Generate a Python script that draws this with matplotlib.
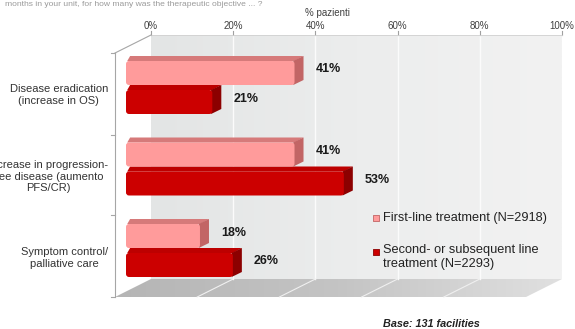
import numpy as np
import matplotlib
matplotlib.use("Agg")
import matplotlib.pyplot as plt
from matplotlib.patches import Polygon, FancyBboxPatch
from matplotlib.colors import LinearSegmentedColormap

plt.rcParams['font.family'] = ['Liberation Sans', 'DejaVu Sans']

# ---------------- data ----------------
categories = ["Disease eradication\n(increase in OS)",
              "Increase in progression-\nfree disease (aumento\nPFS/CR)",
              "Symptom control/\npalliative care"]
first_line = [41, 41, 18]
second_line = [21, 53, 26]
series_names = ["First-line treatment (N=2918)",
                "Second- or subsequent line\ntreatment (N=2293)"]
tick_values = [0, 20, 40, 60, 80, 100]
title_text = "months in your unit, for how many was the therapeutic objective ... ?"
axis_title = "% pazienti"
base_text = "Base: 131 facilities"

# ---------------- geometry (pixels) ----------------
W, H = 575, 329
K = 4.11          # px per percent
X0 = 126          # px of 0% on the bar front plane
BACK_DX = 25      # back wall offset in px
WALL_TOP, WALL_BOT = 35, 279
FLOOR_FRONT = 297
DEPTH_X, DEPTH_Y = -36, 18
BAR_DX, BAR_DY = 9, 5
G_START, G_PITCH = 56, 81.5
SLOT_H, SLOT_GAP = 29, 0


def px(x):
    return (x - X0) / K


fig = plt.figure(figsize=(W / 100, H / 100), dpi=100)
ax = fig.add_axes([0, 0, 1, 1])
ax.set_xlim(px(0), px(W))
ax.set_ylim(H, 0)
ax.axis('off')

bx0 = px(X0 + BACK_DX)          # back wall 0%
bx1 = bx0 + 100                  # back wall 100%

# back wall with gradient
wall = Polygon([(bx0, WALL_TOP), (bx1, WALL_TOP), (bx1, WALL_BOT), (bx0, WALL_BOT)],
               closed=True, facecolor='none', edgecolor='none')
ax.add_patch(wall)
cm_wall = LinearSegmentedColormap.from_list('w', ['#e3e5e5', '#eceded', '#f2f2f2'])
im = ax.imshow(np.linspace(0, 1, 256).reshape(1, -1), cmap=cm_wall, aspect='auto',
               extent=(bx0, bx1, WALL_BOT, WALL_TOP), zorder=0.5)
im.set_clip_path(wall)

# floor with gradient
fx = DEPTH_X / K
floor = Polygon([(bx0, WALL_BOT), (bx1, WALL_BOT), (bx1 + fx, FLOOR_FRONT), (bx0 + fx, FLOOR_FRONT)],
                closed=True, facecolor='none', edgecolor='none')
ax.add_patch(floor)
cm_floor = LinearSegmentedColormap.from_list('f', ['#b5b5b5', '#c4c4c4', '#e0e0e0'])
im2 = ax.imshow(np.linspace(0, 1, 256).reshape(1, -1), cmap=cm_floor, aspect='auto',
                extent=(bx0 + fx, bx1, FLOOR_FRONT, WALL_BOT), zorder=0.5)
im2.set_clip_path(floor)

# grid lines on wall and floor
for t in tick_values[1:-1]:
    ax.plot([bx0 + t, bx0 + t], [WALL_TOP, WALL_BOT], color='#fbfbfb', lw=1, zorder=0.8)
    ax.plot([bx0 + t, bx0 + t + fx], [WALL_BOT, FLOOR_FRONT], color='#f0f0f0', lw=0.8, zorder=0.8)

# top ticks and labels
for t in tick_values:
    ax.plot([bx0 + t, bx0 + t], [WALL_TOP - 4, WALL_TOP], color='#a0a0a0', lw=0.8)
    ax.text(bx0 + t, 26, f"{t}%", ha='center', va='center', fontsize=7, color='#404040')
ax.plot([bx0, bx1], [WALL_TOP, WALL_TOP], color='#d0d0d0', lw=0.6)
ax.text(px(327), 13, axis_title, ha='center', va='center', fontsize=7, color='#404040')

# left wall lines
lx = bx0 + fx
ax.plot([lx, lx], [WALL_TOP + 18, FLOOR_FRONT], color='#a6a6a6', lw=0.8)
ax.plot([lx, bx0], [WALL_TOP + 18, WALL_TOP], color='#a6a6a6', lw=0.8)
for yt in [WALL_TOP + 18, 135, 215, FLOOR_FRONT]:
    ax.plot([lx - 4 / K, lx], [yt, yt], color='#a6a6a6', lw=0.8)


def draw_bar(v, top, front_c, top_c, side_c, z):
    y_face = top + BAR_DY
    bot = top + SLOT_H
    dx = BAR_DX / K
    # top face
    ax.add_patch(Polygon([(0.3, y_face), (v, y_face), (v + dx, top), (1.0, top)],
                         closed=True, facecolor=top_c, edgecolor='none', zorder=z))
    # side face
    ax.add_patch(Polygon([(v - 0.3, y_face), (v + dx, top), (v + dx, bot - BAR_DY), (v - 0.3, bot)],
                         closed=True, facecolor=side_c, edgecolor='none', zorder=z))
    # front face with rounded corners
    ax.add_patch(FancyBboxPatch((0, y_face), v, bot - y_face,
                                boxstyle=f"round,pad=0,rounding_size={3 / K}",
                                mutation_aspect=K, facecolor=front_c,
                                edgecolor='none', zorder=z + 0.1))
    ax.text(v + 21 / K, (top + bot) / 2 - 1, f"{v}%", ha='left', va='center',
            fontsize=9, fontweight='bold', color='#1a1a1a', zorder=6)


pink = ('#ff9b9b', '#d67a7a', '#c26565')
red = ('#cc0000', '#bd0000', '#8c0000')

for i, cat in enumerate(categories):
    g = G_START + i * G_PITCH
    draw_bar(second_line[i], g + SLOT_H + SLOT_GAP, *red, z=3)
    draw_bar(first_line[i], g, *pink, z=4)
    ax.text(px(108), g + 39, cat, ha='right', va='center', multialignment='center',
            fontsize=8, color='#333333', linespacing=1.2)

# legend
ax.scatter([px(376)], [218], marker='s', s=24, color=pink[0], edgecolors=pink[2], linewidths=0.6, zorder=5)
ax.text(px(383), 218, series_names[0], ha='left', va='center', fontsize=9.2, color='#222222')
ax.scatter([px(376)], [252], marker='s', s=24, color=red[0], edgecolors=red[2], linewidths=0.6, zorder=5)
ax.text(px(383), 244, series_names[1], ha='left', va='top', fontsize=9.2, color='#222222',
        linespacing=1.2)

# texts
ax.text(px(5), 5.5, title_text, ha='left', va='baseline', fontsize=6.1, color='#9a9a9a')
ax.text(px(431), 324, base_text, ha='center', va='center', fontsize=7.8,
        fontweight='bold', fontstyle='italic', color='#222222')

fig.savefig("out.png", dpi=100)
